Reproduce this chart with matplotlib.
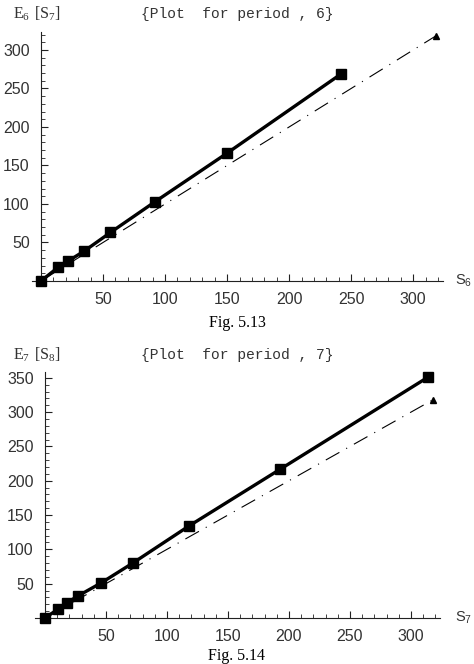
import matplotlib
matplotlib.use('Agg')
import matplotlib.pyplot as plt
from matplotlib.ticker import FixedLocator

# Dados (periodo 6 e periodo 7)
s6 = [0, 14, 22, 35, 56, 92, 150, 242]
e6 = [0, 18, 26, 39, 63, 103, 166, 269]

s7 = [0, 11, 18, 27, 46, 72, 118, 193, 314]
e7 = [0, 13, 22, 32, 51, 80, 134, 217, 351]

# reta de referencia (tracejado-ponto) terminando no triangulo
ref_x = [0, 318]
ref_y = [0, 318]

W, H = 474, 664
fig = plt.figure(figsize=(W / 100, H / 100), dpi=100)


def px(x, y):
    # converte pixel (a partir do topo) em fracao da figura
    return x / W, 1 - y / H


def painel(rect, xs, ys, xlim, ylim, ytop, yticks, titulo, ylab, ypos):
    ax = fig.add_axes(rect)
    ax.plot(ref_x, ref_y, color='black', lw=0.8, dashes=(14, 7, 1, 7))
    ax.plot(ref_x[-1], ref_y[-1], marker='^', color='black', ms=4)
    ax.plot(xs, ys, color='black', lw=2.4, marker='s', ms=6.5, clip_on=False, zorder=5)
    ax.set_xlim(*xlim)
    ax.set_ylim(*ylim)
    for lado in ['top', 'right']:
        ax.spines[lado].set_visible(False)
    ax.spines['left'].set_position(('data', 0))
    ax.spines['bottom'].set_position(('data', 0))
    ax.spines['left'].set_bounds(0, ytop)
    ax.spines['bottom'].set_bounds(xlim[0], xlim[1])
    ax.spines['left'].set_color('#222')
    ax.spines['bottom'].set_color('#222')
    ax.xaxis.set_major_locator(FixedLocator([50, 100, 150, 200, 250, 300]))
    ax.xaxis.set_minor_locator(FixedLocator([v for v in range(10, 330, 10) if v % 50]))
    ax.yaxis.set_major_locator(FixedLocator(yticks))
    ax.yaxis.set_minor_locator(FixedLocator([v for v in range(10, ytop, 10) if v % 50]))
    ax.tick_params(which='major', direction='in', length=5, width=0.8, color='#222',
                   labelsize=11.5, labelcolor='#333', pad=8)
    ax.tick_params(which='minor', direction='in', length=3, width=0.6, color='#222')
    for t in ax.get_xticklabels() + ax.get_yticklabels():
        t.set_family('Liberation Sans')
    fig.text(*px(237, ypos), titulo, family='Liberation Mono', fontsize=10.5,
             color='#333', ha='center', va='center')
    fig.text(*px(13, ypos), ylab, family='Liberation Serif', fontsize=11.5,
             color='#333', ha='left', va='center')
    return ax


ax1 = painel([32.3 / W, 1 - 283.3 / H, 410.7 / W, 252.6 / H], s6, e6,
             (-7, 324), (-3, 325), 323, [50, 100, 150, 200, 250, 300],
             '{Plot  for period , 6}', r'$\mathregular{E_6\ [S_7]}$', 14)
fig.text(*px(472, 281), r'$\mathregular{S_6}$', family='Liberation Sans', fontsize=10.5,
         color='#333', ha='right', va='center')
fig.text(*px(237, 323), 'Fig. 5.13', family='Liberation Serif', fontsize=11.5,
         color='black', ha='center', va='center')

ax2 = painel([35.2 / W, 1 - 620 / H, 405 / W, 249 / H], s7, e7,
             (-8, 324), (-3, 360), 358, [50, 100, 150, 200, 250, 300, 350],
             '{Plot  for period , 7}', r'$\mathregular{E_7\ [S_8]}$', 355)
fig.text(*px(472, 618), r'$\mathregular{S_7}$', family='Liberation Sans', fontsize=10.5,
         color='#333', ha='right', va='center')
fig.text(*px(237, 656), 'Fig. 5.14', family='Liberation Serif', fontsize=11.5,
         color='black', ha='center', va='center')

fig.savefig('out.png', dpi=100)
